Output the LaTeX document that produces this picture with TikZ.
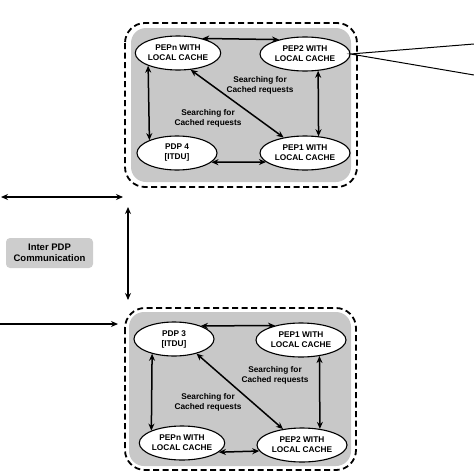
\documentclass[tikz,border=0pt]{standalone}
\usepackage{fontspec}
\setmainfont{Liberation Sans}
\usetikzlibrary{arrows.meta,shapes.geometric}
\definecolor{panelgray}{RGB}{200,200,200}
\definecolor{boxgray}{RGB}{205,205,205}
\begin{document}
\begin{tikzpicture}[x=1pt,y=-1pt,
  pepbox/.style={ellipse, draw, fill=white, line width=1.1pt, minimum width=90pt, minimum height=34pt, inner sep=0pt, font=\fontsize{8.3}{10}\selectfont\bfseries, align=center},
  pdpbox/.style={pepbox, minimum width=80pt},
  link/.style={line width=1.5pt, {Stealth[length=7pt,width=6pt]}-{Stealth[length=7pt,width=6pt]}},
  onelink/.style={line width=1.5pt, -{Stealth[length=7pt,width=6pt]}},
  lbl/.style={font=\fontsize{8.3}{10}\selectfont\bfseries, align=center, inner sep=0pt},
  grouprim/.style={draw, line width=1.8pt, dash pattern=on 6pt off 3.5pt, rounded corners=20pt},
  panel/.style={fill=panelgray, rounded corners=15pt},
  thinline/.style={line width=1pt}]
\useasboundingbox (0,0) rectangle (474,474);

% ---------- top group ----------
\draw[grouprim] (125,23) rectangle (357,187);
\fill[panel] (131,28) rectangle (351,182);
\node[pdpbox] (pepnT) at (178,53) {PEPn WITH\\LOCAL CACHE};
\node[pepbox] (pep2T) at (305,54) {PEP2 WITH\\LOCAL CACHE};
\node[pdpbox] (pdp4) at (177,153) {PDP 4\\{[ITDU]}};
\node[pepbox] (pep1T) at (305,153) {PEP1 WITH\\LOCAL CACHE};
\draw[link] (pepnT.31.7) -- (pep2T.151.2);
\draw[link] (pepnT.203.4) -- (pdp4.155.2);
\draw[link] (pep2T.308.6) -- (pep1T.51.4);
\draw[link] (pdp4.345) -- (pep1T.193.2);
\draw[link] (pepnT.-53.6) -- (pep1T.144.2);
\node[lbl] (lblT1) at (260,85) {Searching for\\Cached requests};
\node[lbl] (lblT2) at (208,118) {Searching for\\Cached requests};
\coordinate (rayA) at (474,44);
\coordinate (rayB) at (474,75);
\draw[thinline] (rayA) -- (pep2T.east) -- (rayB);

% ---------- bottom group ----------
\draw[grouprim] (125,308) rectangle (356,470);
\fill[panel] (129,312) rectangle (351,466);
\node[pdpbox] (pdp3) at (174,339) {PDP 3\\{[ITDU]}};
\node[pepbox] (pep1B) at (301,340) {PEP1 WITH\\LOCAL CACHE};
\node[pdpbox, minimum width=78pt] (pepnB) at (182,443) {PEPn WITH\\LOCAL CACHE};
\node[pepbox] (pep2B) at (302,445) {PEP2 WITH\\LOCAL CACHE};
\draw[link] (pdp3.26.7) -- (pep1B.151.2);
\draw[link] (pdp3.214.6) -- (pepnB.158.5);
\draw[link] (pep1B.319.1) -- (pep2B.42.7);
\draw[link] (pepnB.346.9) -- (pep2B.188.1);
\draw[link] (pdp3.-33.1) -- (pep2B.140.7);
\node[lbl] (lblB1) at (275,375) {Searching for\\Cached requests};
\node[lbl] (lblB2) at (208,402) {Searching for\\Cached requests};

% ---------- inter PDP ----------
\node[fill=boxgray, rounded corners=4pt, minimum width=87pt, minimum height=30pt, inner sep=0pt, align=center, font=\fontsize{9.5}{11}\selectfont\bfseries] (inter) at (49.5,253) {Inter PDP\\Communication};
\coordinate (topL) at (1,197);
\coordinate (topR) at (123,197);
\coordinate (vertT) at (128,207);
\coordinate (vertB) at (128,300);
\coordinate (botL) at (0,324);
\coordinate (botR) at (118,324);
\draw[link] (topL) -- (topR);
\draw[link] (vertT) -- (vertB);
\draw[onelink] (botL) -- (botR);
\end{tikzpicture}
\end{document}
